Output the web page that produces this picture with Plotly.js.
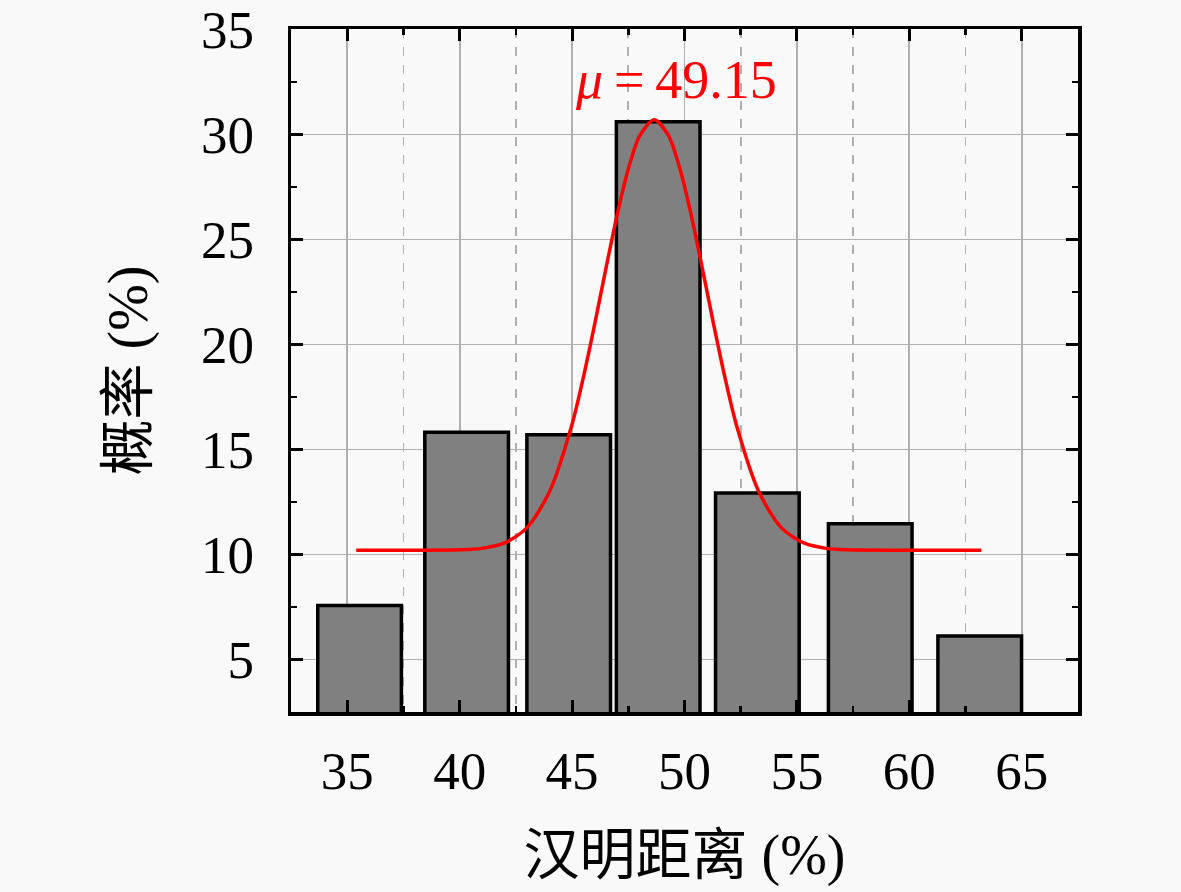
<!DOCTYPE html>
<html>
<head>
<meta charset="utf-8">
<script src="https://cdn.plot.ly/plotly-3.0.1.min.js"></script>
<style>
  html, body { margin: 0; padding: 0; background: #f9f9f9; }
  #chart { width: 1181px; height: 892px; }
</style>
</head>
<body>
<div id="chart"></div>
<script>
// Histogram of Hamming distance (%)
const binCenters = [35.55, 40.31, 44.85, 48.83, 53.24, 58.26, 63.13];
const probability = [7.57, 15.82, 15.70, 30.60, 12.93, 11.46, 6.12];
const barWidth = 3.72;

// Fitted curve
const fitX = [35.4, 38.0, 40.0, 41.0, 42.0, 43.0, 44.0, 45.0, 45.5, 46.0, 46.5, 47.0, 47.5, 48.0, 48.65,
              49.3, 49.8, 50.3, 50.8, 51.3, 51.8, 52.3, 53.3, 54.3, 55.3, 56.3, 57.3, 60.0, 63.2];
const fitY = [10.20, 10.20, 10.22, 10.29, 10.55, 11.28, 13.00, 16.20, 18.42, 20.93, 23.59, 26.15, 28.35, 29.92, 30.70,
              29.92, 28.35, 26.15, 23.59, 20.93, 18.42, 16.20, 13.00, 11.28, 10.55, 10.29, 10.22, 10.20, 10.20];

const muLabel = '<i>μ</i>\u2009=\u200949.15';
const muPos = [49.6, 32.6];

const xTitle = '汉明距离 (%)';
const yTitle = '概率 (%)';

const serif = 'Liberation Serif, Noto Sans CJK SC, serif';

const traces = [
  {
    type: 'bar',
    x: binCenters,
    y: probability,
    width: barWidth,
    marker: { color: '#808080', line: { color: '#000000', width: 3.5 } },
    hoverinfo: 'x+y'
  },
  {
    type: 'scatter',
    mode: 'lines',
    x: fitX,
    y: fitY,
    line: { color: '#ff0000', width: 3.5, shape: 'spline', smoothing: 0.8 }
  }
];

const axisCommon = {
  showline: true,
  linecolor: '#000000',
  linewidth: 3.5,
  mirror: 'ticks',
  ticks: 'inside',
  ticklen: 12,
  tickwidth: 3,
  tickcolor: '#000000',
  showgrid: true,
  gridcolor: '#b0b0b0',
  gridwidth: 1.8,
  zeroline: false,
  ticklabeloverflow: 'allow',
  tickfont: { family: serif, size: 53, color: '#000000' }
};

const layout = {
  width: 1181,
  height: 892,
  margin: { l: 291, r: 103, t: 29, b: 180 },
  paper_bgcolor: '#f9f9f9',
  plot_bgcolor: '#f9f9f9',
  showlegend: false,
  xaxis: Object.assign({}, axisCommon, {
    range: [32.5, 67.5],
    tickmode: 'linear',
    tick0: 35,
    dtick: 5,
    ticklabelstandoff: 10,
    minor: { dtick: 2.5, tick0: 32.5, ticks: 'inside', ticklen: 6, tickwidth: 2.5, tickcolor: '#000000',
             showgrid: true, gridcolor: '#b0b0b0', gridwidth: 1.8, griddash: 'dash' },
    title: { text: xTitle, font: { family: serif, size: 56, color: '#000000' }, standoff: 36 }
  }),
  yaxis: Object.assign({}, axisCommon, {
    range: [2.5, 35.02],
    tickmode: 'linear',
    tick0: 5,
    dtick: 5,
    ticklabelstandoff: 23,
    minor: { dtick: 2.5, tick0: 2.5, ticks: 'inside', ticklen: 6, tickwidth: 2.5, tickcolor: '#000000', showgrid: false },
    title: { text: yTitle, font: { family: serif, size: 56, color: '#000000' }, standoff: 36 }
  }),
  annotations: [
    {
      x: muPos[0], y: muPos[1], xref: 'x', yref: 'y',
      text: muLabel, showarrow: false,
      font: { family: serif, size: 54, color: '#ff0000' }
    }
  ]
};

Plotly.newPlot('chart', traces, layout, { displayModeBar: false, staticPlot: true });
</script>
</body>
</html>
